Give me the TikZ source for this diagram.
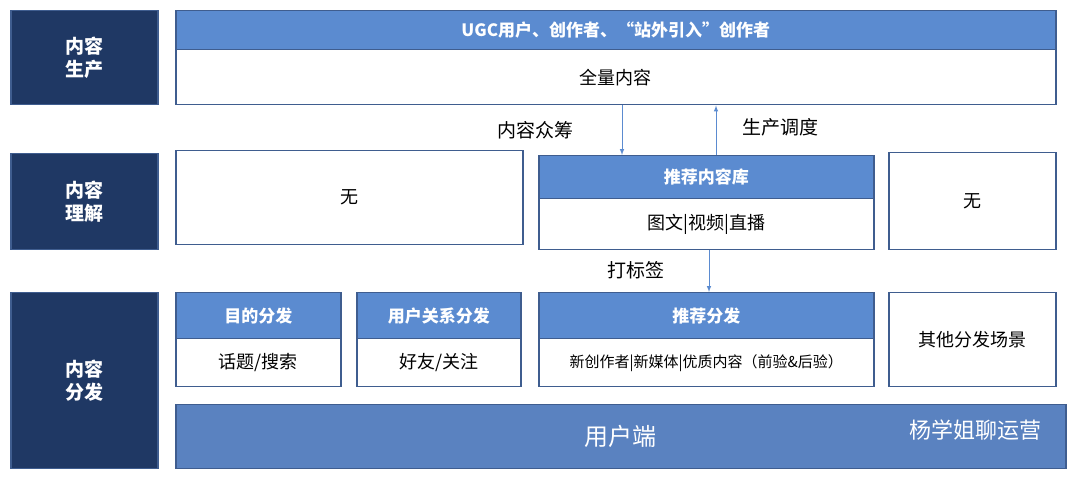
\documentclass[tikz,border=0pt]{standalone}
\usepackage{fontspec}
\setmainfont{Noto Sans CJK SC}
\usetikzlibrary{positioning}
\definecolor{navy}{HTML}{1F3864}
\definecolor{headblue}{HTML}{5B8BD0}
\definecolor{barblue}{HTML}{5A82C0}
\definecolor{edge}{HTML}{3F5D8F}
\tikzset{
  % left column label
  side/.style = {
    draw = edge, fill = navy, text = white, line width = 1.5pt,
    anchor = north west, inner sep = 0, align = center,
    font = \fontsize{19}{23}\selectfont\bfseries
  },
  % white content box
  cbox/.style = {
    draw = edge, fill = white, line width = 1.5pt,
    anchor = north west, inner sep = 0, align = center,
    font = \fontsize{18}{22}\selectfont
  },
  % blue header strip
  hbox/.style = {
    cbox, fill = headblue, text = white,
    font = \fontsize{17}{21}\selectfont\bfseries
  },
  flow/.style = {
    draw = headblue, line width = 1pt, -latex
  },
  lbl/.style = {
    font = \fontsize{19}{23}\selectfont
  }
}
\begin{document}
\begin{tikzpicture}[x=1pt, y=-1pt]
  \useasboundingbox (0,0) rectangle (1080,478);

  % left column
  \node[side, minimum width=147pt, minimum height=94pt] (prod) at (10,10) {内容\\生产};
  \node[side, minimum width=147pt, minimum height=96pt] (und) at (10,153) {内容\\理解};
  \node[side, minimum width=147pt, minimum height=176pt] (dist) at (10,292) {内容\\分发};

  % production
  \node[cbox, minimum width=880pt, minimum height=55pt] (all) at (175,49) {全量内容};
  \node[hbox, minimum width=880pt, minimum height=39pt] (ugc) at (175,10) {UGC用户、创作者、“站外引入”创作者};

  % understanding
  \node[cbox, minimum width=347pt, minimum height=94pt] (none-l) at (175,150) {无};
  \node[cbox, minimum width=335pt, minimum height=51pt] (media) at (538,198) {图文|视频|直播};
  \node[hbox, minimum width=335pt, minimum height=43pt] (lib) at (538,155) {推荐内容库};
  \node[cbox, minimum width=167pt, minimum height=97pt] (none-r) at (888,152) {无};

  % distribution
  \node[cbox, minimum width=165pt, minimum height=48pt] (topic) at (175,338) {话题/搜索};
  \node[hbox, minimum width=165pt, minimum height=46pt] (goal) at (175,292) {目的分发};
  \node[cbox, minimum width=164pt, minimum height=48pt] (friend) at (356,338) {好友/关注};
  \node[hbox, minimum width=164pt, minimum height=46pt] (rel) at (356,292) {用户关系分发};
  \node[cbox, minimum width=335pt, minimum height=48pt, font=\fontsize{15}{19}\selectfont] (types) at (538,338) {新创作者|新媒体|优质内容（前验\&后验）};
  \node[hbox, minimum width=335pt, minimum height=46pt] (rec) at (538,292) {推荐分发};
  \node[cbox, minimum width=167pt, minimum height=94pt] (other) at (888,292) {其他分发场景};

  % client bar
  \node[cbox, fill=barblue, text=white, minimum width=890pt, minimum height=64pt,
        font=\fontsize{24}{28}\selectfont] (client) at (175,404) {用户端};
  \node[text=white, font=\fontsize{22}{26}\selectfont, anchor=east] (mark) at (1045,430) {杨学姐聊运营};

  % flows
  \draw[flow] (all.south -| 622,0) -- (lib.north -| 622,0);
  \draw[flow] (lib.north -| 716,0) -- (all.south -| 716,0);
  \draw[flow] (media.south -| 709,0) -- (rec.north -| 709,0);
  \node[lbl] (crowd) at (535,130) {内容众筹};
  \node[lbl] (sched) at (780,127) {生产调度};
  \node[lbl] (tag) at (636,270) {打标签};
\end{tikzpicture}
\end{document}
